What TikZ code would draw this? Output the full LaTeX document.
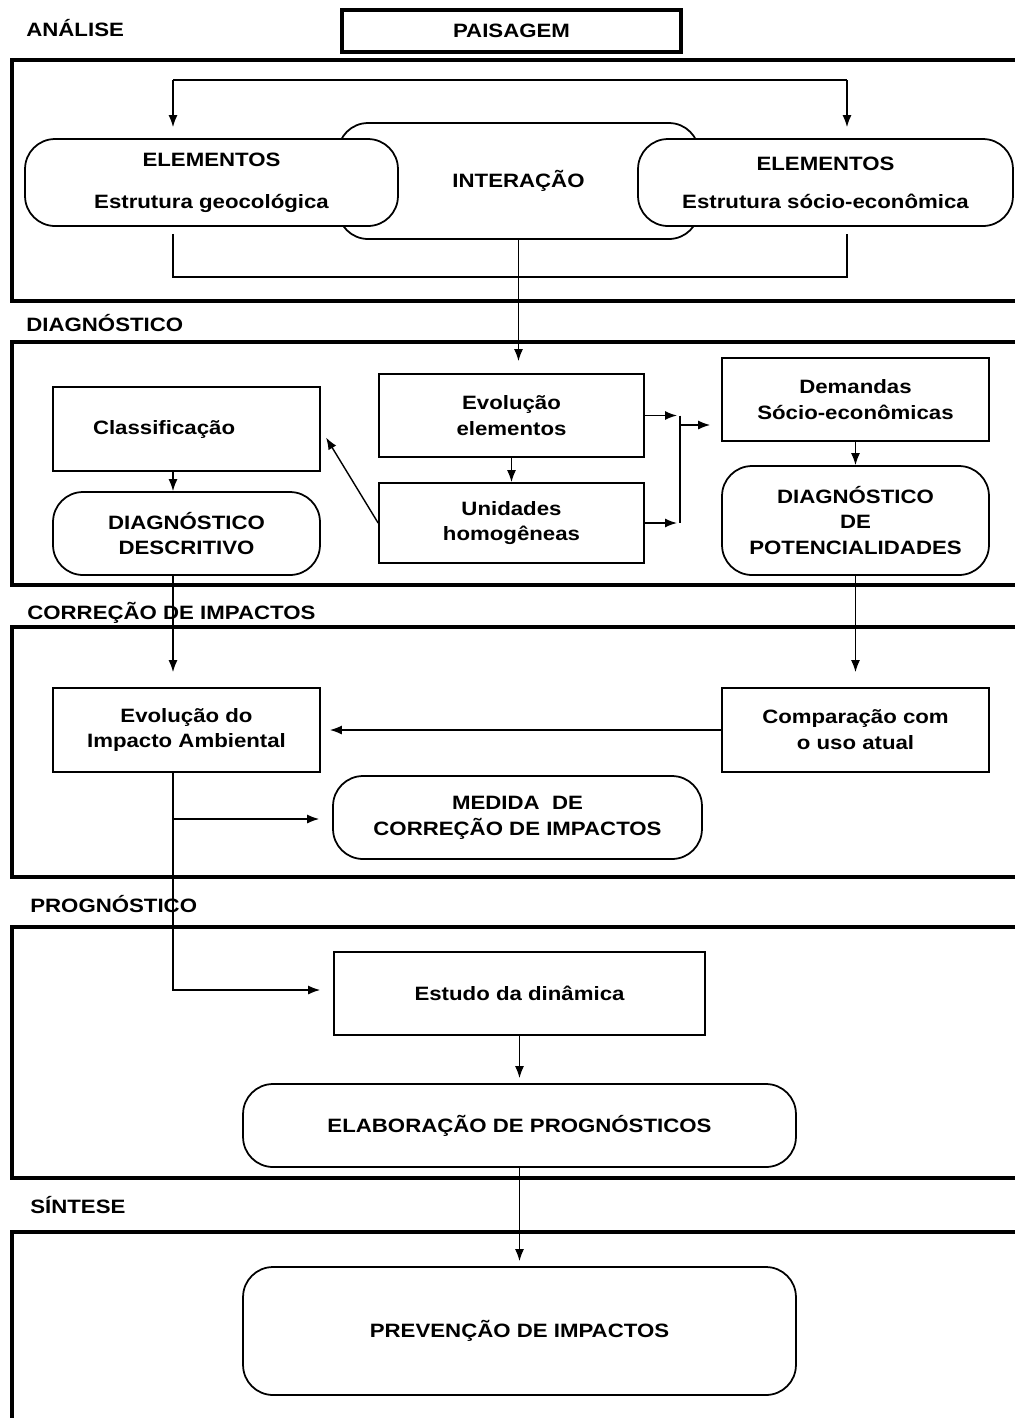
\documentclass[tikz,border=0pt]{standalone}
\usepackage{fontspec}
\setmainfont{Liberation Sans}[FakeStretch=1.15]
\usetikzlibrary{arrows.meta,positioning,calc}

\begin{document}
\begin{tikzpicture}[
  x=0.02cm, y=-0.02cm,
  font=\fontsize{11}{14.7}\selectfont\bfseries,
  stage/.style={line width=1.8pt},
  title/.style={anchor=west, inner sep=0pt},
  box/.style={rectangle, draw, line width=1pt, align=center, inner sep=0pt},
  soft/.style={box, rounded corners=0.6cm},
  link/.style={line width=0.8pt},
  feeds/.style={link, -{Latex[length=2.4mm, width=1.8mm]}}
]
  \useasboundingbox (0,0) rectangle (1015,1418);
  \clip (0,0) rectangle (1015,1418);
  % Stage frames
  \draw[stage] (12,60) rectangle (1030,301);
  \draw[stage] (12,342) rectangle (1030,585);
  \draw[stage] (12,627) rectangle (1030,877);
  \draw[stage] (12,927) rectangle (1030,1178);
  \draw[stage] (12,1232) rectangle (1030,1440);
  % Stage titles
  \node[title] (analise) at (26,28) {ANÁLISE};
  \node[title] (diag)    at (26,323) {DIAGNÓSTICO};
  \node[title] (correc)  at (27,613) {CORREÇÃO DE IMPACTOS};
  \node[title] (progn)   at (30,904) {PROGNÓSTICO};
  \node[title] (sint)    at (30,1205) {SÍNTESE};
  % Analysis
  \node[box, line width=1.8pt, minimum width=6.78cm, minimum height=0.84cm] (paisagem) at (511.5,31) {PAISAGEM};
  \node[soft, minimum width=7.22cm, minimum height=2.32cm] (inter) at (518.5,181) {INTERAÇÃO};
  \node[soft, fill=white, minimum width=7.46cm, minimum height=1.74cm] (elemgeo) at (211.5,182.5) {ELEMENTOS\\[9pt]Estrutura geocológica};
  \node[soft, fill=white, minimum width=7.5cm, minimum height=1.74cm] (elemsoc) at (825.5,182.5) {ELEMENTOS\\[7pt]Estrutura sócio-econômica};
  % Diagnosis
  \node[box, minimum width=5.3cm, minimum height=1.66cm] (evol) at (511.5,415.5) {Evolução\\elementos};
  \node[box, minimum width=5.3cm, minimum height=1.6cm] (unid) at (511.5,523) {Unidades\\homogêneas};
  \node[box, align=left, text width=3.74cm, inner xsep=0.8cm, minimum height=1.68cm] (classif) at (186.5,429) {Classificação};
  \node[soft, minimum width=5.34cm, minimum height=1.66cm] (descr) at (186.5,533.5) {DIAGNÓSTICO\\DESCRITIVO};
  \node[box, minimum width=5.34cm, minimum height=1.66cm] (demand) at (855.5,399.5) {Demandas\\Sócio-econômicas};
  \node[soft, minimum width=5.34cm, minimum height=2.18cm] (potenc) at (855.5,520.5) {DIAGNÓSTICO\\DE\\POTENCIALIDADES};
  % Correction
  \node[box, minimum width=5.34cm, minimum height=1.68cm] (evimp) at (186.5,730) {Evolução do\\Impacto Ambiental};
  \node[box, minimum width=5.34cm, minimum height=1.68cm] (compar) at (855.5,730) {Comparação com\\o uso atual};
  \node[soft, minimum width=7.38cm, minimum height=1.66cm] (medida) at (517.5,817.5) {MEDIDA\ \ DE\\CORREÇÃO DE IMPACTOS};
  % Prognosis and synthesis
  \node[box, minimum width=7.42cm, minimum height=1.66cm] (estudo) at (519.5,993.5) {Estudo da dinâmica};
  \node[soft, minimum width=11.06cm, minimum height=1.66cm] (elab) at (519.5,1125.5) {ELABORAÇÃO DE PROGNÓSTICOS};
  \node[soft, minimum width=11.06cm, minimum height=2.56cm] (prev) at (519.5,1331) {PREVENÇÃO DE IMPACTOS};

  % Connectors: analysis
  \coordinate (splitgeo) at (173,80);
  \coordinate (splitsoc) at (847,80);
  \coordinate (joingeo) at (173,277);
  \coordinate (joinsoc) at (847,277);
  \draw[link] (splitgeo) -- (splitsoc);
  \draw[feeds, shorten >=0.22cm] (splitgeo) -- (splitgeo |- elemgeo.north);
  \draw[feeds, shorten >=0.22cm] (splitsoc) -- (splitsoc |- elemsoc.north);
  \draw[link, shorten <=0.14cm, shorten >=0.14cm] (joingeo |- elemgeo.south) -- (joingeo) -- (joinsoc) -- (joinsoc |- elemsoc.south);
  \draw[feeds, shorten >=0.24cm] (inter.south) -- (inter.south |- evol.north);
  % Connectors: diagnosis
  \coordinate (mergetop) at (680,415.5);
  \coordinate (mergebot) at (680,523);
  \coordinate (mergeout) at (680,425);
  \draw[feeds] (evol) -- (unid);
  \draw[feeds] (classif.south -| joingeo) -- (descr.north -| joingeo);
  \draw[feeds, shorten >=0.2cm] (unid.west) -- (classif.east);
  \draw[feeds, shorten >=0.06cm] (evol.east) -- (mergetop);
  \draw[feeds, shorten >=0.06cm] (unid.east) -- (mergebot);
  \draw[link] (mergetop) -- (mergebot);
  \draw[feeds, shorten >=0.22cm] (mergeout) -- (mergeout -| demand.west);
  \draw[feeds] (demand) -- (potenc);
  % Connectors: correction and prognosis
  \coordinate (branch) at (173,819);
  \coordinate (turn) at (173,990);
  \draw[feeds, shorten >=0.3cm] (descr.south -| joingeo) -- (evimp.north -| joingeo);
  \draw[feeds, shorten >=0.3cm] (potenc) -- (compar);
  \draw[feeds, shorten >=0.18cm] (compar.west) -- (evimp.east);
  \draw[feeds, shorten >=0.26cm] (evimp.south -| joingeo) -- (turn) -- (turn -| estudo.west);
  \draw[feeds, shorten >=0.26cm] (branch) -- (branch -| medida.west);
  \draw[feeds, shorten >=0.1cm] (estudo) -- (elab);
  \draw[feeds, shorten >=0.1cm] (elab) -- (prev);
\end{tikzpicture}
\end{document}
